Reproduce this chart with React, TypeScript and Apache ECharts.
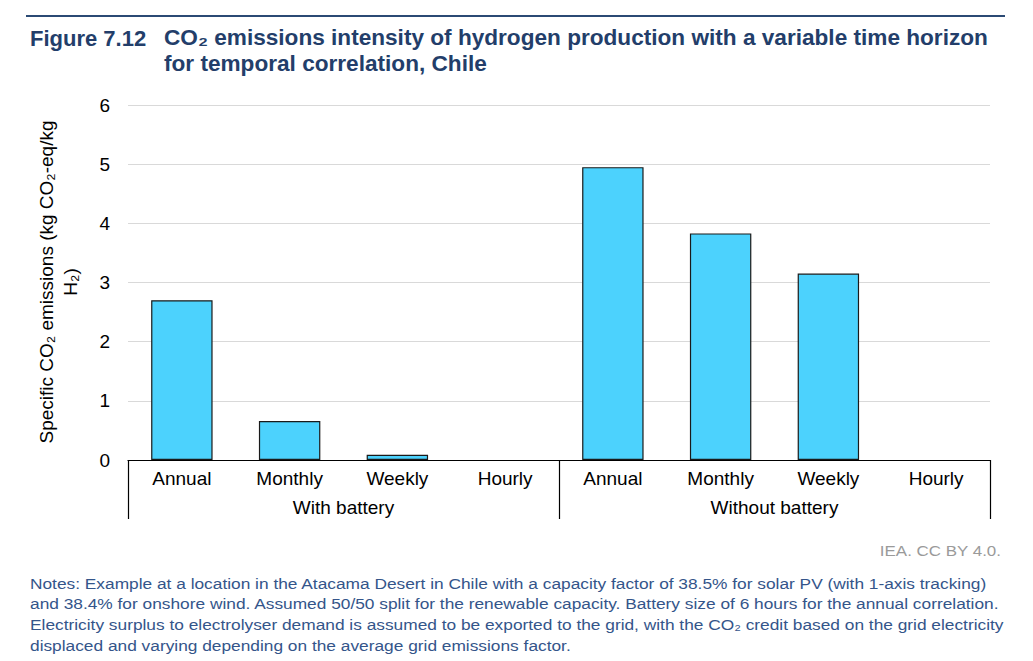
import React, { useEffect, useRef } from "react";
import * as echarts from "echarts";

const categories = ["Annual", "Monthly", "Weekly", "Hourly", "Annual", "Monthly", "Weekly", "Hourly"];
const groups = ["With battery", "Without battery"];
const emissions = [2.7, 0.66, 0.09, 0, 4.95, 3.83, 3.15, 0];
const yTicks = [0, 1, 2, 3, 4, 5, 6];

const titleLine1 = "CO₂ emissions intensity of hydrogen production with a variable time horizon";
const titleLine2 = "for temporal correlation, Chile";
const figureLabel = "Figure 7.12";
const yAxisTitle = "Specific CO₂ emissions (kg CO₂-eq/kg\nH₂)";
const sourceText = "IEA. CC BY 4.0.";
const notes = [
  "Notes: Example at a location in the Atacama Desert in Chile with a capacity factor of 38.5% for solar PV (with 1-axis tracking)",
  "and 38.4% for onshore wind. Assumed 50/50 split for the renewable capacity. Battery size of 6 hours for the annual correlation.",
  "Electricity surplus to electrolyser demand is assumed to be exported to the grid, with the CO₂ credit based on the grid electricity",
  "displaced and varying depending on the average grid emissions factor.",
];

const FONT = "'Liberation Sans', Arial, 'DejaVu Sans', sans-serif";
const TITLE_COLOR = "#233e6a";

export default function App() {
  const ref = useRef<HTMLDivElement>(null);
  useEffect(() => {
    if (!ref.current) return;
    const chart = echarts.init(ref.current, undefined, { renderer: "svg" });
    chart.setOption({
      animation: false,
      backgroundColor: "#ffffff",
      textStyle: { fontFamily: FONT },
      grid: { left: 128, right: 43, top: 105, bottom: 201, containLabel: false },
      xAxis: [
        {
          type: "category",
          data: categories,
          position: "bottom",
          axisLine: { show: true, lineStyle: { color: "#000", width: 1.2 } },
          axisTick: { show: false },
          axisLabel: { color: "#000", fontSize: 19, margin: 9, fontFamily: FONT, interval: 0 },
          splitLine: { show: false },
        },
        {
          type: "category",
          data: groups,
          position: "bottom",
          offset: 0,
          axisLine: { show: false },
          axisTick: { show: true, length: 59, inside: false, lineStyle: { color: "#000", width: 1.2 } },
          axisLabel: { color: "#000", fontSize: 19, margin: 38, fontFamily: FONT, interval: 0 },
          splitLine: { show: false },
        },
      ],
      yAxis: {
        type: "value",
        min: yTicks[0],
        max: yTicks[yTicks.length - 1],
        interval: 1,
        axisLine: { show: false },
        axisTick: { show: false },
        axisLabel: { color: "#000", fontSize: 19, margin: 18, fontFamily: FONT },
        splitLine: { show: true, lineStyle: { color: "#d9d9d9", width: 1 } },
      },
      series: [
        {
          type: "bar",
          xAxisIndex: 0,
          data: emissions.map((v) => ({
            value: v,
            itemStyle: v === 0 ? { borderWidth: 0, opacity: 0 } : undefined,
          })),
          barWidth: "57%",
          itemStyle: { color: "#4cd2fd", borderColor: "#1a1a1a", borderWidth: 1.2 },
        },
      ],
      graphic: [
        {
          type: "line",
          shape: { x1: 26, y1: 16, x2: 1005, y2: 16 },
          style: { stroke: "#2b4a74", lineWidth: 2 },
        },
        {
          type: "text",
          x: 30,
          y: 38,
          style: {
            text: figureLabel,
            fill: TITLE_COLOR,
            font: `bold 22px ${FONT}`,
            textVerticalAlign: "middle",
          },
        },
        {
          type: "text",
          x: 164,
          y: 38,
          scaleX: 1.028,
          style: {
            text: titleLine1,
            fill: TITLE_COLOR,
            font: `bold 22px ${FONT}`,
            textVerticalAlign: "middle",
          },
        },
        {
          type: "text",
          x: 164,
          y: 64,
          scaleX: 1.028,
          style: {
            text: titleLine2,
            fill: TITLE_COLOR,
            font: `bold 22px ${FONT}`,
            textVerticalAlign: "middle",
          },
        },
        {
          type: "text",
          x: 58,
          y: 282,
          rotation: Math.PI / 2,
          style: {
            text: yAxisTitle,
            fill: "#000",
            font: `19px ${FONT}`,
            textAlign: "center",
            textVerticalAlign: "middle",
            lineHeight: 24,
          },
        },
        {
          type: "text",
          x: 1001,
          y: 551,
          scaleX: 1.13,
          style: {
            text: sourceText,
            fill: "#9a9a9a",
            font: `15px ${FONT}`,
            textAlign: "right",
            textVerticalAlign: "middle",
          },
        },
        ...notes.map((line, i) => ({
          type: "text",
          x: 30,
          y: 583 + i * 20.7,
          scaleX: 1.155,
          style: {
            text: line,
            fill: "#34558a",
            font: `15px ${FONT}`,
            textVerticalAlign: "middle",
          },
        })),
      ],
    });
    return () => chart.dispose();
  }, []);
  return (
    <div
      ref={ref}
      style={{ position: "absolute", left: 0, top: 0, width: 1033, height: 661 }}
    />
  );
}
